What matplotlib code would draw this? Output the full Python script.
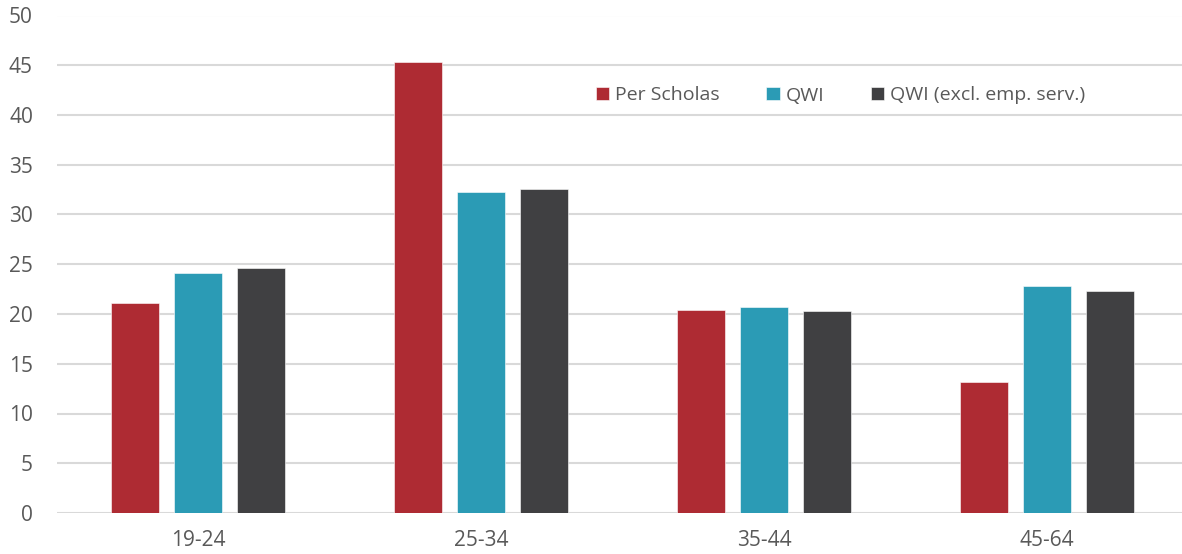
import matplotlib
matplotlib.use("Agg")
import matplotlib.pyplot as plt
import numpy as np

plt.rcParams['font.family'] = ['Open Sans', 'DejaVu Sans']

age_groups = ["19-24", "25-34", "35-44", "45-64"]
series_names = ["Per Scholas", "QWI", "QWI (excl. emp. serv.)"]
per_scholas = [21.1, 45.3, 20.4, 13.2]
qwi = [24.1, 32.3, 20.7, 22.8]
qwi_excl = [24.6, 32.6, 20.3, 22.3]
y_ticks = [0, 5, 10, 15, 20, 25, 30, 35, 40, 45, 50]

colors = ["#AE2B33", "#2B9BB5", "#404042"]
text_color = "#595959"
grid_color = "#D9D9D9"

W, H = 1182, 554
fig = plt.figure(figsize=(W / 100, H / 100), dpi=100)
left_px, right_px, top_px, bottom_px = 56.5, 1188.5, 15.5, 513
ax = fig.add_axes([left_px / W, 1 - bottom_px / H,
                   (right_px - left_px) / W, (bottom_px - top_px) / H])

x = np.arange(len(age_groups))
width = 0.173
pitch = 0.2226
for i, (vals, name) in enumerate(zip([per_scholas, qwi, qwi_excl], series_names)):
    ax.bar(x + (i - 1) * pitch, vals, width, color=colors[i], label=name,
           edgecolor="white", linewidth=0.4, zorder=3)

ax.set_xlim(-0.5, len(age_groups) - 0.5)
ax.set_ylim(0, 50)
ax.set_yticks(y_ticks)
ax.set_xticks(x)
ax.set_xticklabels(age_groups)
ax.grid(axis="y", color=grid_color, linewidth=1.5, zorder=0)
ax.set_axisbelow(True)
for s in ax.spines.values():
    s.set_visible(False)
ax.tick_params(axis="y", length=0, pad=17, labelsize=15, labelcolor=text_color)
ax.tick_params(axis="x", length=0, pad=12, labelsize=15, labelcolor=text_color)

leg = ax.legend(ncol=3, loc="center left",
                bbox_to_anchor=(596 / W, 1 - 95.5 / H),
                bbox_transform=fig.transFigure, frameon=False,
                fontsize=14, handlelength=0.68, handleheight=0.68,
                handletextpad=0.3, columnspacing=2.4, borderpad=0,
                borderaxespad=0)
for t in leg.get_texts():
    t.set_color(text_color)

fig.savefig("out.png", dpi=100)
